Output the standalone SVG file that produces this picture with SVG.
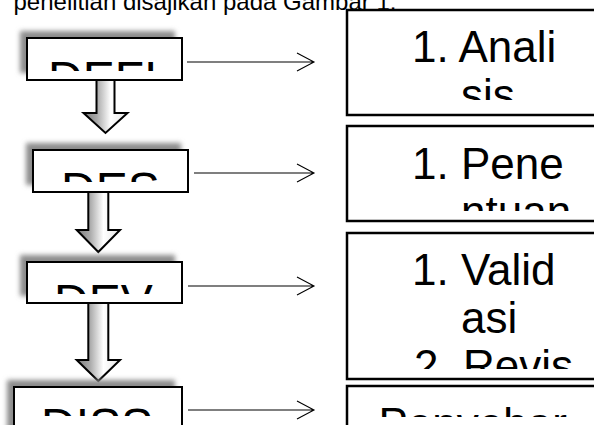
<svg xmlns="http://www.w3.org/2000/svg" width="594" height="425" viewBox="0 0 594 425">
<style>
.t{font-family:"Liberation Sans",Arial,Helvetica,sans-serif;fill:#000}
.lb{fill:#fff;stroke:#000;stroke-width:2}
.rb{fill:#fff;stroke:#000;stroke-width:2.5}
.sh{fill:#8c8c8c;filter:url(#blur)}
.ln{stroke:#000;stroke-width:1.1;fill:none}
.ba{fill:url(#g);stroke:#000;stroke-width:2;stroke-linejoin:miter}
</style>
<defs>
<filter id="blur" x="-20%" y="-50%" width="140%" height="200%"><feGaussianBlur stdDeviation="2.8"/></filter>
<linearGradient id="g" x1="0" y1="0" x2="1" y2="0">
<stop offset="0" stop-color="#7a7a7a"/><stop offset="0.3" stop-color="#a8a8a8"/><stop offset="0.62" stop-color="#ffffff"/><stop offset="1" stop-color="#e4e4e4"/>
</linearGradient>
<clipPath id="c1"><rect x="28" y="39" width="153" height="32"/></clipPath>
<clipPath id="c2"><rect x="34" y="151" width="153" height="31"/></clipPath>
<clipPath id="c3"><rect x="28" y="263" width="153" height="31"/></clipPath>
<clipPath id="c4"><rect x="15" y="388" width="166" height="28"/></clipPath>
<clipPath id="r1"><rect x="348" y="11" width="300" height="89"/></clipPath>
<clipPath id="r2"><rect x="348" y="127" width="300" height="84"/></clipPath>
<clipPath id="r3"><rect x="348" y="234" width="300" height="135"/></clipPath>
<clipPath id="r4"><rect x="348" y="387" width="300" height="30"/></clipPath>
</defs>
<rect width="594" height="425" fill="#fff"/>
<text class="t" x="13.5" y="10" font-size="24">penelitian disajikan pada Gambar 1.</text>

<g id="connectors">
<path class="ba" d="M96.5,80 L114.5,80 L114.5,113 L127.5,113 L105.5,133 L83.5,113 L96.5,113 Z"/>
<path class="ba" d="M88.3,192 L108.3,192 L108.3,230 L120,230 L98.3,252 L76.7,230 L88.3,230 Z"/>
<path class="ba" d="M88.3,303 L108.3,303 L108.3,360 L120,360 L98.3,381 L76.7,360 L88.3,360 Z"/>
<path class="ln" d="M187,62 H314 M297,53 L314,62 L297,71"/>
<path class="ln" d="M194,173 H314 M297,164 L314,173 L297,182"/>
<path class="ln" d="M188,286 H314 M297,277 L314,286 L297,295"/>
<path class="ln" d="M188,410 H314 M297,401 L314,410 L297,419"/>
</g>

<g id="define">
<rect class="sh" x="20" y="31" width="155" height="42"/>
<rect class="lb" x="27" y="38" width="155" height="42"/>
<text class="t" x="48" y="94.5" font-size="48" clip-path="url(#c1)">DEFI</text>
</g>
<g id="design">
<rect class="sh" x="26" y="143" width="155" height="42"/>
<rect class="lb" x="33" y="150" width="155" height="42"/>
<text class="t" x="61" y="206" font-size="48" clip-path="url(#c2)">DES</text>
</g>
<g id="develop">
<rect class="sh" x="20" y="255" width="155" height="41"/>
<rect class="lb" x="27" y="262" width="155" height="41"/>
<text class="t" x="54" y="318" font-size="48" clip-path="url(#c3)">DEV</text>
</g>
<g id="disseminate">
<rect class="sh" x="7" y="380" width="168" height="60"/>
<rect class="lb" x="14" y="387" width="168" height="60"/>
<text class="t" x="41" y="442" font-size="48" clip-path="url(#c4)">DISS</text>
</g>

<g id="analisis">
<rect class="rb" x="347" y="10" width="300" height="105"/>
<g clip-path="url(#r1)">
<text class="t" x="412" y="62" font-size="44">1. Anali</text>
<text class="t" x="461" y="110" font-size="44">sis</text>
</g>
</g>
<g id="penentuan">
<rect class="rb" x="347" y="126" width="300" height="95"/>
<g clip-path="url(#r2)">
<text class="t" x="412" y="178.5" font-size="44">1. Pene</text>
<text class="t" x="461" y="226.5" font-size="44">ntuan</text>
</g>
</g>
<g id="validasi">
<rect class="rb" x="347" y="233" width="300" height="146"/>
<g clip-path="url(#r3)">
<text class="t" x="412" y="285" font-size="44">1. Valid</text>
<text class="t" x="461" y="333" font-size="44">asi</text>
<text class="t" x="414" y="381" font-size="44">2. Revis</text>
</g>
</g>
<g id="penyebaran">
<rect class="rb" x="347" y="386" width="300" height="100"/>
<g clip-path="url(#r4)">
<text class="t" x="378.5" y="438.5" font-size="44">Penyebar</text>
</g>
</g>
</svg>
